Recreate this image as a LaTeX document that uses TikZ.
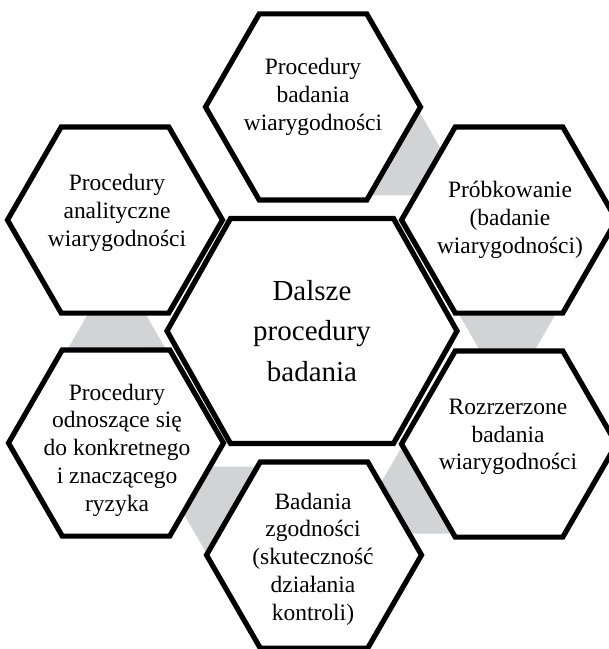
\documentclass[tikz,border=0pt]{standalone}
\usepackage{fontspec}
\setmainfont{Liberation Serif}
\usetikzlibrary{positioning}
\definecolor{linkgray}{RGB}{209,211,212}

\begin{document}
\begin{tikzpicture}[x=0.75pt,y=-0.75pt,
  cell/.style={draw=black,line width=3.9pt,fill=white},
  link/.style={fill=linkgray},
  celltext/.style={align=center,font=\fontsize{17.6}{20.8}\selectfont},
  midtext/.style={align=center,font=\fontsize{21.75}{30.4}\selectfont},
  pics/hexcell/.style={code={\draw[cell] (0:#1) -- (60:#1) -- (120:#1) -- (180:#1) -- (240:#1) -- (300:#1) -- cycle;}}]
\useasboundingbox (0,0) rectangle (609,649);
\clip (0,0) rectangle (609,649);

\coordinate (mid) at (312,331);
\coordinate (top) at (313,107);
\coordinate (ur)  at (509,220);
\coordinate (lr)  at (509,444);
\coordinate (bot) at (314,555);
\coordinate (ll)  at (116,443);
\coordinate (ul)  at (115,220);

% grey links between the outer cells
\foreach \a in {-65,-5,55,115,175}
  \fill[link] (mid) ++(\a:196) +(0:48.5) -- +(60:48.5) -- +(120:48.5) -- +(180:48.5) -- +(240:48.5) -- +(300:48.5) -- cycle;

\foreach \c in {top,ur,lr,bot,ll,ul}
  \pic at (\c) {hexcell=107.5};

\draw[cell] (mid) +(-145,0) -- +(-81.5,-112.5) -- +(81.5,-112.5) -- +(145,0) -- +(81.5,112.5) -- +(-81.5,112.5) -- cycle;

\node[midtext]  (pmid) at (mid)      {Dalsze\\procedury\\badania};
\node[celltext] (ptop) at (313,97)   {Procedury\\badania\\wiarygodności};
\node[celltext] (pur)  at (510,220)  {Próbkowanie\\(badanie\\wiarygodności)};
\node[celltext] (plr)  at (508,437)  {Rozrzerzone\\badania\\wiarygodności};
\node[celltext] (pbot) at (313,559)  {Badania\\zgodności\\(skuteczność\\działania\\kontroli)};
\node[celltext] (pll)  at (117,450)  {Procedury\\odnoszące się\\do konkretnego\\i znaczącego\\ryzyka};
\node[celltext] (pul)  at (117,213)  {Procedury\\analityczne\\wiarygodności};
\end{tikzpicture}
\end{document}
